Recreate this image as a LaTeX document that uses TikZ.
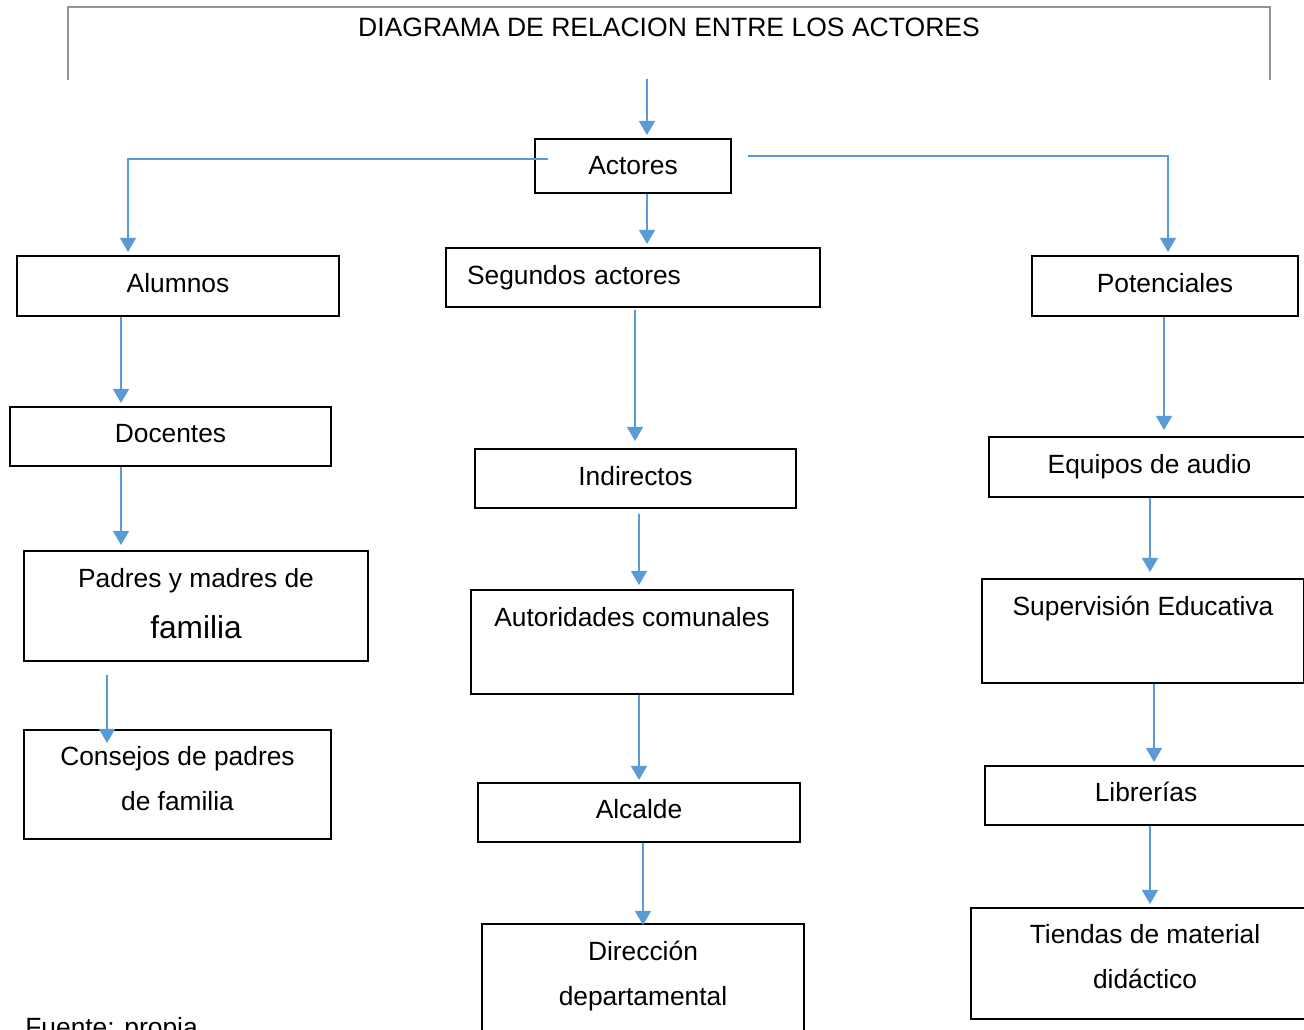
\documentclass[tikz,border=0pt]{standalone}
\usepackage{fontspec}
\setmainfont{Liberation Sans}
\usetikzlibrary{arrows.meta}
\definecolor{linkblue}{RGB}{91,155,213}
\tikzset{
  actorbox/.style={draw, line width=1.1pt, inner sep=0pt, align=center,
    font=\fontsize{15}{26}\selectfont},
  link/.style={color=linkblue, line width=1.1pt, -{Triangle[width=9pt,length=8pt]}}
}
\begin{document}
\begin{tikzpicture}[x=0.02cm,y=-0.02cm]
\useasboundingbox (0,0) rectangle (1304,1030);
% title bracket
\draw[gray!85, line width=0.8pt] (68,80) |- (1270,7) -- (1270,80);
\node[font=\fontsize{15.1}{18}\selectfont] (titulo) at (669,27) {DIAGRAMA DE RELACION ENTRE LOS ACTORES};
\coordinate (inicio) at (647,79);
% first level
\node[actorbox, minimum width=3.92cm, minimum height=1.08cm] (actores) at (633,166) {Actores};
\node[actorbox, text depth=0.12cm, minimum width=6.44cm, minimum height=1.2cm] (alumnos) at (178,286) {Alumnos};
\node[actorbox, align=left, text width=6.64cm, inner xsep=0.42cm, minimum height=1.18cm] (segundos) at (633,277.5) {Segundos actores};
\node[actorbox, text depth=0.12cm, minimum width=5.32cm, minimum height=1.2cm] (potenciales) at (1165,286) {Potenciales};
% left column
\node[actorbox, text depth=0.12cm, minimum width=6.42cm, minimum height=1.18cm] (docentes) at (170.5,436.5) {Docentes};
\node[actorbox, text depth=0.1cm, minimum width=6.88cm, minimum height=2.2cm] (padres) at (196,606) {Padres y madres de\\[0.1cm]{\fontsize{18}{28}\selectfont familia}};
\node[actorbox, text depth=0.24cm, minimum width=6.14cm, minimum height=2.18cm] (consejos) at (177.5,784.5) {Consejos de padres\\de familia};
% middle column
\node[actorbox, text depth=0.12cm, minimum width=6.42cm, minimum height=1.18cm] (indirectos) at (635.5,478.5) {Indirectos};
\node[actorbox, text depth=0.08cm, minimum width=6.44cm, minimum height=2.08cm] (autoridades) at (632,642) {Autoridades comunales\\\mbox{}};
\node[actorbox, text depth=0.16cm, minimum width=6.44cm, minimum height=1.18cm] (alcalde) at (639,812.5) {Alcalde};
\node[actorbox, text depth=0.23cm, minimum width=6.44cm, minimum height=2.2cm] (direccion) at (643,979) {Dirección\\departamental};
% right column
\node[actorbox, minimum width=6.42cm, minimum height=1.2cm] (equipos) at (1149.5,467) {Equipos de audio};
\node[actorbox, text depth=0.08cm, minimum width=6.44cm, minimum height=2.08cm] (supervision) at (1143,631) {Supervisión Educativa\\\mbox{}};
\node[actorbox, text depth=0.16cm, minimum width=6.44cm, minimum height=1.18cm] (librerias) at (1146,795.5) {Librerías};
\node[actorbox, text depth=0.28cm, minimum width=6.96cm, minimum height=2.22cm] (tiendas) at (1145,963.5) {Tiendas de material\\didáctico};
\node[anchor=base west, inner sep=0pt, font=\fontsize{15}{18}\selectfont] (fuente) at (25,1036) {Fuente: propia};
% connectors
\draw[link] (inicio) -- ([xshift=0.28cm,yshift=0.06cm]actores.north);
\draw[link] ([xshift=0.28cm]actores.south) -- ([xshift=0.28cm,yshift=0.06cm]segundos.north);
\draw[link] ([xshift=0.28cm,yshift=0.14cm]actores.west) -| ([xshift=-1cm,yshift=0.06cm]alumnos.north);
\draw[link] ([xshift=0.32cm,yshift=0.2cm]actores.east) -| ([xshift=0.06cm,yshift=0.06cm]potenciales.north);
\draw[link] ([xshift=-1.14cm]alumnos.south) -- ([xshift=-0.99cm,yshift=0.06cm]docentes.north);
\draw[link] ([xshift=-0.99cm]docentes.south) -- ([xshift=-1.5cm,yshift=0.1cm]padres.north);
\draw[link] ([xshift=-1.78cm,yshift=-0.26cm]padres.south) -- ([xshift=-1.41cm,yshift=-0.28cm]consejos.north);
\draw[link] ([xshift=0.04cm,yshift=-0.04cm]segundos.south) -- ([xshift=-0.01cm,yshift=0.14cm]indirectos.north);
\draw[link] ([xshift=0.07cm,yshift=-0.1cm]indirectos.south) -- ([xshift=0.14cm,yshift=0.08cm]autoridades.north);
\draw[link] ([xshift=0.14cm]autoridades.south) -- ([yshift=0.04cm]alcalde.north);
\draw[link] ([xshift=0.08cm]alcalde.south) -- ([yshift=-0.04cm]direccion.north);
\draw[link] ([xshift=-0.02cm]potenciales.south) -- ([xshift=0.29cm,yshift=0.12cm]equipos.north);
\draw[link] ([xshift=0.01cm]equipos.south) -- ([xshift=0.14cm,yshift=0.12cm]supervision.north);
\draw[link] ([xshift=0.22cm]supervision.south) -- ([xshift=0.16cm,yshift=0.06cm]librerias.north);
\draw[link] ([xshift=0.08cm]librerias.south) -- ([xshift=0.1cm,yshift=0.06cm]tiendas.north);
\end{tikzpicture}
\end{document}
